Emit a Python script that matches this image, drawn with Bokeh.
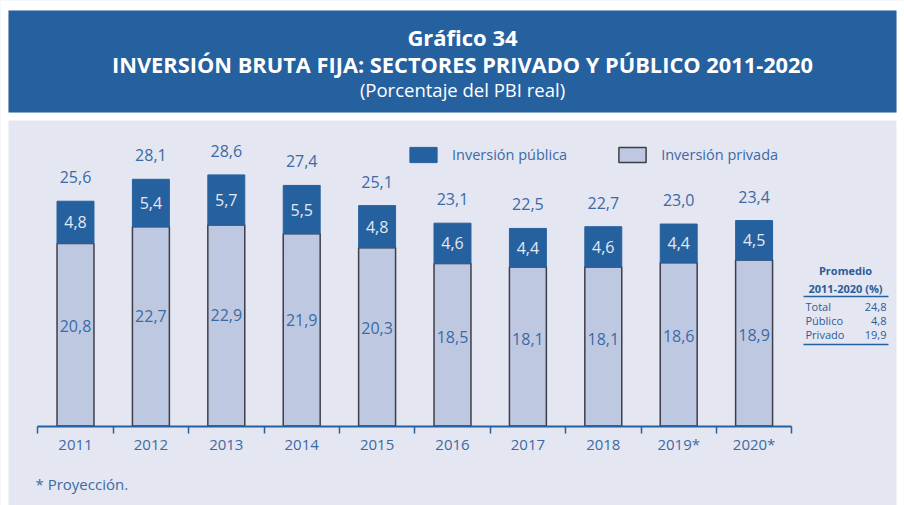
from bokeh.plotting import figure
from bokeh.models import ColumnDataSource, LinearAxis, FixedTicker, Label, Legend, LegendItem, Range1d, Arrow
from bokeh.embed import file_html
from bokeh.resources import INLINE
from bokeh.core.properties import value

# ---- data ----
years = ["2011", "2012", "2013", "2014", "2015", "2016", "2017", "2018", "2019*", "2020*"]
publica = [4.8, 5.4, 5.7, 5.5, 4.8, 4.6, 4.4, 4.6, 4.4, 4.5]
privada = [20.8, 22.7, 22.9, 21.9, 20.3, 18.5, 18.1, 18.1, 18.6, 18.9]
total = [25.6, 28.1, 28.6, 27.4, 25.1, 23.1, 22.5, 22.7, 23.0, 23.4]
prom_names = ["Total", "Público", "Privado"]
prom_values = [24.8, 4.8, 19.9]

BLUE = "#26619f"
LAV = "#e4e6f1"
PRIV = "#bec9e1"
TXT = "#3b6aa6"
TBL = "#2b5c99"
FONT = "Open Sans"

W, H = 904, 505
n = len(years)
XPX = 75.4          # pixels per category
YPX = 8.78          # pixels per percentage point
X0PX = 37.3         # left end of the axis (px)
Y0PX = 425.5        # axis line (px)
x_start = -X0PX / XPX
x_end = x_start + W / XPX
y_end = Y0PX / YPX
y_start = y_end - H / YPX


def dx(px):
    return x_start + px / XPX


def dy(py):
    return y_end - py / YPX


def fmt(v):
    return f"{v:.1f}".replace(".", ",")


xs = [i + 0.5 for i in range(n)]
src = ColumnDataSource(dict(
    x=xs,
    priv=privada,
    pub_top=[a + b for a, b in zip(privada, publica)],
    pub_mid=[a + b / 2 for a, b in zip(privada, publica)],
    priv_lab_y=[a * 0.55 for a in privada],
    tot_lab=[fmt(v) for v in total],
    pub_lab=[fmt(v) for v in publica],
    priv_lab=[fmt(v) for v in privada],
))

p = figure(width=W, height=H, x_range=Range1d(x_start, x_end), y_range=Range1d(y_start, y_end),
           x_axis_type=None, y_axis_type=None, toolbar_location=None, output_backend="svg",
           min_border=0, background_fill_color=LAV, border_fill_color=LAV, outline_line_color=None)
p.grid.visible = False

# page decoration: white margins, blue header band
p.quad(left=[dx(0), dx(0), dx(896), dx(0)], right=[dx(W), dx(8), dx(W), dx(W)],
       top=[dy(0), dy(0), dy(0), dy(112)], bottom=[dy(10), dy(H), dy(H), dy(120)],
       fill_color="white", line_color=None)
p.quad(left=[dx(8)], right=[dx(896)], top=[dy(10)], bottom=[dy(112)], fill_color=BLUE, line_color=None)

hx = dx(462)
p.add_layout(Label(x=hx, y=dy(36), text="Gráfico 34", text_align="center", text_baseline="middle",
                   text_color="white", text_font=FONT, text_font_style="bold", text_font_size="22px"))
p.add_layout(Label(x=hx, y=dy(64), text="INVERSIÓN BRUTA FIJA: SECTORES PRIVADO Y PÚBLICO 2011-2020",
                   text_align="center", text_baseline="middle", text_color="white", text_font=FONT,
                   text_font_style="bold", text_font_size="21.8px"))
p.add_layout(Label(x=hx, y=dy(89), text="(Porcentaje del PBI real)", text_align="center",
                   text_baseline="middle", text_color="white", text_font=FONT, text_font_size="18.5px"))

# bars
r_priv = p.vbar(x="x", top="priv", bottom=0, width=0.49, source=src,
                fill_color=PRIV, line_color="#3e3e4a", line_width=1.5)
r_pub = p.vbar(x="x", bottom="priv", top="pub_top", width=0.49, source=src,
               fill_color=BLUE, line_color=BLUE, line_width=1)

p.text(x="x", y="pub_top", text="tot_lab", source=src, y_offset=-24, text_align="center",
       text_baseline="middle", text_color=TXT, text_font=value(FONT), text_font_size="16px")
p.text(x="x", y="pub_mid", text="pub_lab", source=src, text_align="center",
       text_baseline="middle", text_color="#e3e8f3", text_font=value(FONT), text_font_size="16px")
p.text(x="x", y="priv_lab_y", text="priv_lab", source=src, text_align="center",
       text_baseline="middle", text_color=TXT, text_font=value(FONT), text_font_size="16px")

ax = LinearAxis(ticker=FixedTicker(ticks=xs, minor_ticks=list(range(n + 1))),
                major_label_overrides={x: y for x, y in zip(xs, years)},
                fixed_location=0, bounds=(0, n))
ax.axis_line_color = BLUE
ax.axis_line_width = 2
ax.major_tick_line_color = None
ax.major_tick_out = 6
ax.major_tick_in = 0
ax.minor_tick_line_color = BLUE
ax.minor_tick_line_width = 1.5
ax.minor_tick_out = 7
ax.minor_tick_in = 0
ax.major_label_standoff = 1
ax.major_label_text_color = TXT
ax.major_label_text_font = FONT
ax.major_label_text_font_size = "15px"
p.add_layout(ax, "below")

legend = Legend(items=[LegendItem(label="Inversión pública", renderers=[r_pub]),
                       LegendItem(label="Inversión privada", renderers=[r_priv])],
                orientation="horizontal", location=(406, H - 164), glyph_width=34, glyph_height=19,
                label_height=19, label_standoff=12, spacing=48, padding=0, margin=0,
                border_line_color=None, background_fill_alpha=0,
                label_text_font=FONT, label_text_color=TXT, label_text_font_size="14.5px")
p.add_layout(legend)

# side table: promedio
cx = dx(845)
p.add_layout(Label(x=cx, y=dy(270), text="Promedio", text_align="center", text_baseline="middle",
                   text_color=TBL, text_font=FONT, text_font_style="bold", text_font_size="11px"))
p.add_layout(Label(x=cx, y=dy(288), text="2011-2020 (%)", text_align="center", text_baseline="middle",
                   text_color=TBL, text_font=FONT, text_font_style="bold", text_font_size="11px"))
p.add_layout(Arrow(end=None, x_start=dx(803), y_start=dy(296), x_end=dx(888), y_end=dy(296),
                   line_color=BLUE, line_width=1.5))
for i, (nm, v) in enumerate(zip(prom_names, prom_values)):
    yy = dy(306 + 14 * i)
    p.add_layout(Label(x=dx(805), y=yy, text=nm, text_align="left", text_baseline="middle",
                       text_color=TBL, text_font=FONT, text_font_size="11px"))
    p.add_layout(Label(x=dx(886), y=yy, text=fmt(v), text_align="right", text_baseline="middle",
                       text_color=TBL, text_font=FONT, text_font_size="11px"))
p.add_layout(Arrow(end=None, x_start=dx(803), y_start=dy(344), x_end=dx(888), y_end=dy(344),
                   line_color=BLUE, line_width=1.5))

p.add_layout(Label(x=dx(35), y=dy(483), text="* Proyección.", text_align="left", text_baseline="middle",
                   text_color=TXT, text_font=FONT, text_font_size="15px"))

open("out.html", "w").write(file_html(p, INLINE))
